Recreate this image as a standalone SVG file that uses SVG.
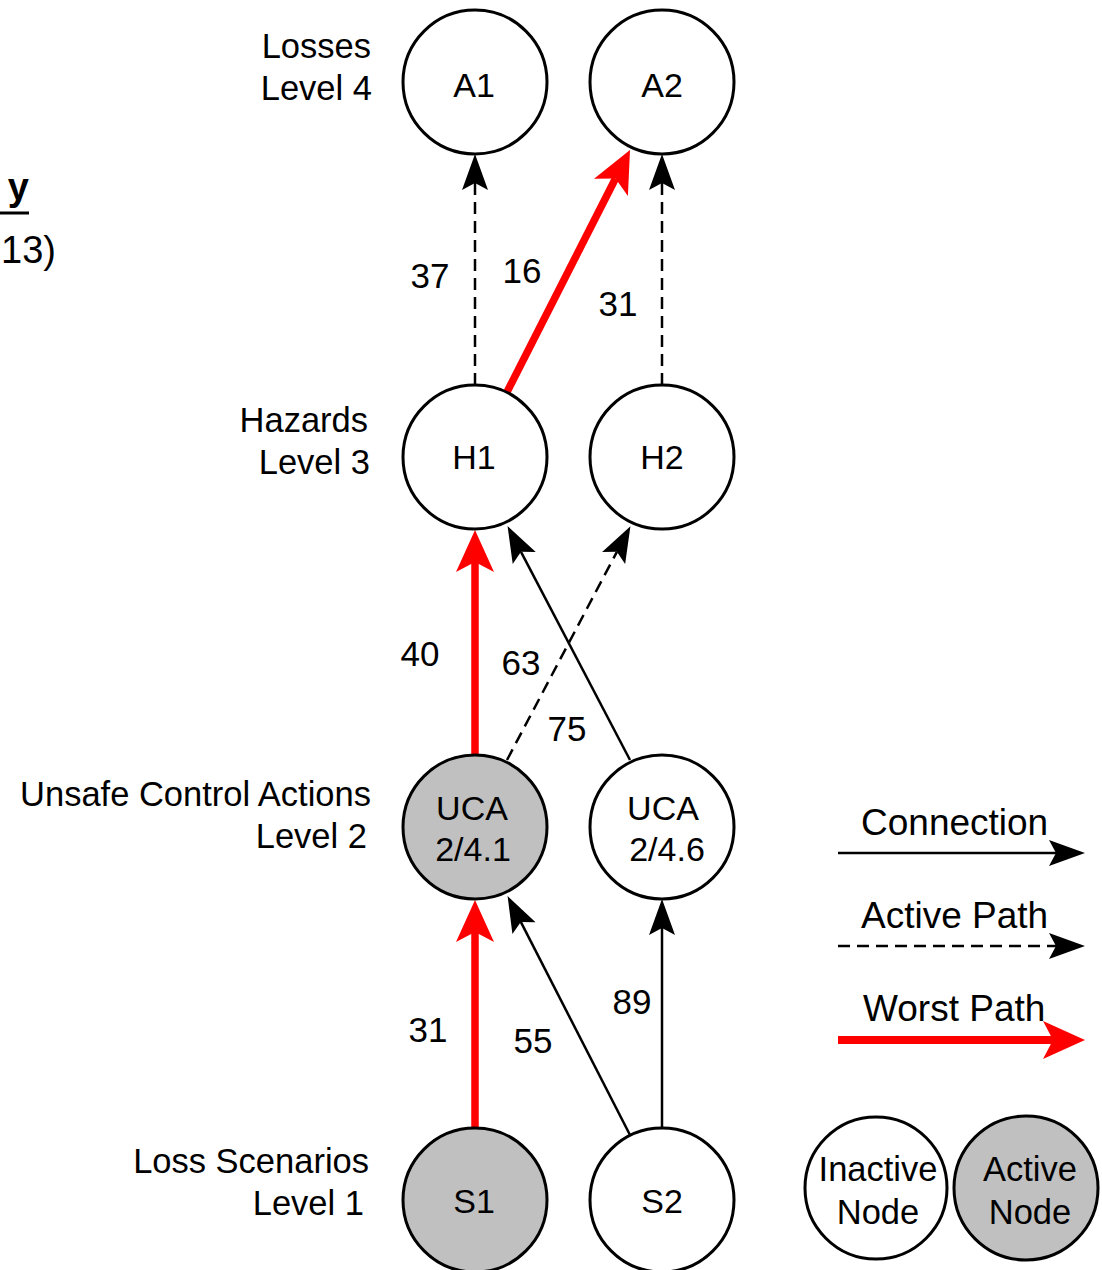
<svg xmlns="http://www.w3.org/2000/svg" width="1102" height="1270" viewBox="0 0 1102 1270">
<style>
text{font-family:"Liberation Sans",Arial,sans-serif;fill:#000}
.node{stroke:#000;stroke-width:3;fill:#fff}
.active{fill:#c0c0c0}
.nt{font-size:34px;text-anchor:middle}
.lvl{font-size:34.5px;text-anchor:end}
.num{font-size:35px;text-anchor:middle}
.leg{font-size:37px}
.lt{font-size:34.5px;text-anchor:middle}
.conn{stroke:#000;stroke-width:2.5;fill:none;marker-end:url(#blk)}
.dash{stroke:#000;stroke-width:2.5;fill:none;stroke-dasharray:12 7;marker-end:url(#blk)}
.worst{stroke:#f00;stroke-width:7.5;fill:none;marker-end:url(#red)}
</style>
<defs>
<marker id="blk" markerUnits="userSpaceOnUse" viewBox="-8 -14 38 28" refX="0" refY="0" markerWidth="38" markerHeight="28" orient="auto" overflow="visible">
<path d="M29,0 L-7,-13 L0,0 L-7,13 Z" fill="#000"/>
</marker>
<marker id="red" markerUnits="userSpaceOnUse" viewBox="-11 -20 44 40" refX="0" refY="0" markerWidth="44" markerHeight="40" orient="auto" overflow="visible">
<path d="M32,0 L-10,-19 L0,0 L-10,19 Z" fill="#f00"/>
</marker>
</defs>
<rect width="1102" height="1270" fill="#fff"/>

<g id="title-fragment">
<text x="29" y="200" font-size="38" font-weight="bold" text-anchor="end">y</text>
<line x1="0" y1="213" x2="29" y2="213" stroke="#000" stroke-width="3"/>
<text x="56" y="263" font-size="38" text-anchor="end">13)</text>
</g>

<g id="level-labels">
<text class="lvl" x="371" y="58">Losses</text>
<text class="lvl" x="372" y="100">Level 4</text>
<text class="lvl" x="368" y="432">Hazards</text>
<text class="lvl" x="370" y="474">Level 3</text>
<text class="lvl" x="371" y="806">Unsafe Control Actions</text>
<text class="lvl" x="367" y="848">Level 2</text>
<text class="lvl" x="369" y="1173">Loss Scenarios</text>
<text class="lvl" x="364" y="1215">Level 1</text>
</g>

<g id="connectors">
<line class="dash" x1="475" y1="385" x2="475" y2="183"/>
<line class="dash" x1="662" y1="385" x2="662" y2="183"/>
<line class="worst" x1="507" y1="392" x2="615.5" y2="178.5"/>
<line class="worst" x1="475" y1="755" x2="475" y2="562"/>
<line class="dash" x1="507" y1="760" x2="616.9" y2="551.8"/>
<line class="conn" x1="630" y1="760" x2="521" y2="551.8"/>
<line class="worst" x1="475" y1="1128" x2="475" y2="932"/>
<line class="conn" x1="630" y1="1135" x2="520.8" y2="921.9"/>
<line class="conn" x1="662" y1="1128" x2="662" y2="928"/>
<text class="num" x="430" y="288">37</text>
<text class="num" x="522" y="283">16</text>
<text class="num" x="618" y="316">31</text>
<text class="num" x="420" y="666">40</text>
<text class="num" x="521" y="675">63</text>
<text class="num" x="567" y="741">75</text>
<text class="num" x="428" y="1042">31</text>
<text class="num" x="533" y="1053">55</text>
<text class="num" x="632" y="1014">89</text>
</g>

<g id="A1"><circle class="node" cx="475" cy="82" r="72"/><text class="nt" x="474" y="97">A1</text></g>
<g id="A2"><circle class="node" cx="662" cy="82" r="72"/><text class="nt" x="662" y="97">A2</text></g>
<g id="H1"><circle class="node" cx="475" cy="457" r="72"/><text class="nt" x="474" y="469">H1</text></g>
<g id="H2"><circle class="node" cx="662" cy="457" r="72"/><text class="nt" x="662" y="469">H2</text></g>
<g id="UCA-2-4.1"><circle class="node active" cx="475" cy="827" r="72"/><text class="nt" x="472" y="820">UCA</text><text class="nt" x="473" y="861">2/4.1</text></g>
<g id="UCA-2-4.6"><circle class="node" cx="662" cy="827" r="72"/><text class="nt" x="663" y="820">UCA</text><text class="nt" x="667" y="861">2/4.6</text></g>
<g id="S1"><circle class="node active" cx="475" cy="1200" r="72"/><text class="nt" x="474" y="1213">S1</text></g>
<g id="S2"><circle class="node" cx="662" cy="1200" r="72"/><text class="nt" x="662" y="1213">S2</text></g>

<g id="legend">
<text class="leg" x="861" y="835">Connection</text>
<line class="conn" x1="838" y1="853" x2="1056" y2="853"/>
<text class="leg" x="861" y="928">Active Path</text>
<line class="dash" x1="838" y1="946" x2="1056" y2="946"/>
<text class="leg" x="863" y="1021">Worst Path</text>
<line stroke="#f00" stroke-width="8" x1="838" y1="1040" x2="1053" y2="1040" marker-end="url(#red)"/>
<g id="legend-inactive"><circle class="node" cx="876" cy="1188" r="71"/><text class="lt" x="878" y="1181">Inactive</text><text class="lt" x="878" y="1224">Node</text></g>
<g id="legend-active"><circle class="node active" cx="1026" cy="1188" r="72"/><text class="lt" x="1030" y="1181">Active</text><text class="lt" x="1030" y="1224">Node</text></g>
</g>
</svg>
